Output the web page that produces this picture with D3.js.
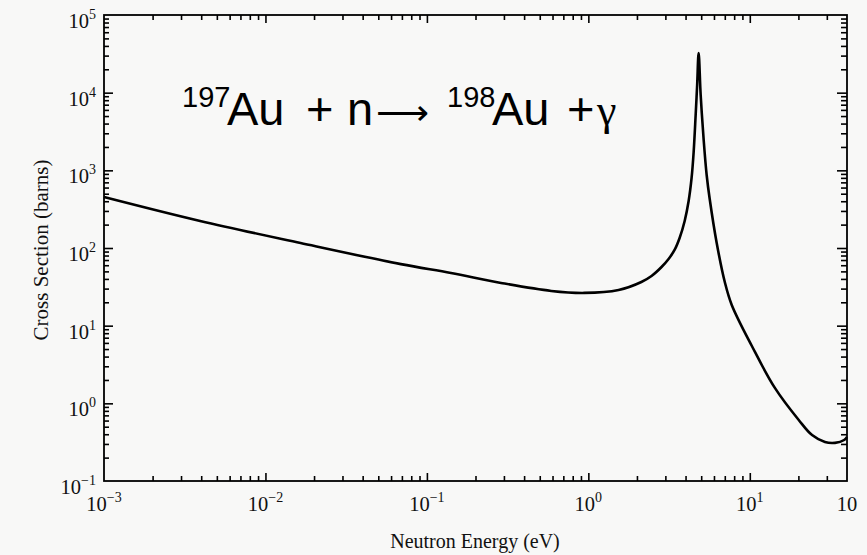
<!DOCTYPE html>
<meta charset="utf-8">
<script src="https://d3js.org/d3.v7.min.js"></script>
<title>197Au neutron capture cross section</title>

<style>

body {
  margin: 0;
  background: #f8f8f7;
}

svg {
  display: block;
}

.lbl, .title {
  font-family: "Liberation Serif", "Times New Roman", serif;
  fill: #111;
}

.eq {
  font-family: "Liberation Sans", Arial, sans-serif;
  fill: #000;
}

.axis path, .axis line {
  stroke: #000;
  stroke-width: 1.6px;
}

</style>
<body>

<svg id="chart" width="867" height="555"></svg>

<script>

// curve: neutron energy (eV) -> cross section (barns)
var energy = [0.001, 0.00394, 0.0165, 0.069, 0.141, 0.288, 0.589, 0.944, 1.54, 2.13,
  2.462, 2.84, 3.14, 3.42, 3.675, 3.95, 4.18, 4.36, 4.49, 4.62, 4.72, 4.82,
  4.963, 5.18, 5.405, 5.645, 6.237, 7.0, 7.73, 10.3, 14.3, 20.1, 24.3, 29.2, 33.7, 38.4, 40];
var sigma = [454, 223, 116, 62, 47.6, 35.5, 28.0, 26.4, 28.8, 36.5,
  43.6, 56.9, 72.2, 94.3, 134.6, 223, 403, 797, 1722, 5158, 12550, 32400,
  9333, 2458, 871, 427, 116, 36.5, 18.5, 5.47, 1.58, 0.61, 0.39, 0.318, 0.31, 0.337, 0.369];

var xLabelValues = [1e-3, 1e-2, 1e-1, 1, 10, 40];
var xLabelExp = ["\u22123", "\u22122", "\u22121", "0", "1", ""];
var yLabelValues = [1e-1, 1, 10, 100, 1e3, 1e4, 1e5];
var yLabelExp = ["\u22121", "0", "1", "2", "3", "4", "5"];

var pLeft = 104, pRight = 847, pTop = 15, pBottom = 481;

var x = d3.scaleLog()
  .domain([1e-3, 40])
  .range([pLeft, pRight]);

var y = d3.scaleLog()
  .domain([0.1, 1e5])
  .range([pBottom, pTop]);

var svg = d3.select("#chart");

function isMajor(d) {
  return Math.abs(Math.log10(d) - Math.round(Math.log10(d))) < 1e-9;
}

var xt = x.ticks().filter(function(d) { return d > 1e-3 && d < 40; });
var yt = y.ticks().filter(function(d) { return d > 0.1 && d < 1e5; });

// frame
svg.append("rect")
  .attr("x", pLeft)
  .attr("y", pTop)
  .attr("width", pRight - pLeft)
  .attr("height", pBottom - pTop)
  .attr("fill", "none")
  .attr("stroke", "#000")
  .attr("stroke-width", 1.8);

// inward ticks on all four sides
svg.append("g").attr("class", "axis")
  .attr("transform", "translate(0," + pBottom + ")")
  .call(d3.axisBottom(x).tickValues(xt).tickFormat("").tickSizeOuter(0).tickSizeInner(-5))
  .selectAll(".tick line").attr("y2", function(d) { return isMajor(d) ? -8 : -5; });

svg.append("g").attr("class", "axis")
  .attr("transform", "translate(0," + pTop + ")")
  .call(d3.axisTop(x).tickValues(xt).tickFormat("").tickSizeOuter(0).tickSizeInner(-5))
  .selectAll(".tick line").attr("y2", function(d) { return isMajor(d) ? 8 : 5; });

svg.append("g").attr("class", "axis")
  .attr("transform", "translate(" + pLeft + ",0)")
  .call(d3.axisLeft(y).tickValues(yt).tickFormat("").tickSizeOuter(0).tickSizeInner(-5))
  .selectAll(".tick line").attr("x2", function(d) { return isMajor(d) ? 9 : 5; });

svg.append("g").attr("class", "axis")
  .attr("transform", "translate(" + pRight + ",0)")
  .call(d3.axisRight(y).tickValues(yt).tickFormat("").tickSizeOuter(0).tickSizeInner(-6))
  .selectAll(".tick line").attr("x2", function(d) { return isMajor(d) ? -10 : -6; });

svg.selectAll(".axis .domain").remove();

// tick labels
var xl = svg.selectAll(".xlbl")
  .data(xLabelValues)
  .enter().append("text")
  .attr("class", "lbl")
  .attr("x", function(d) { return x(d); })
  .attr("y", pBottom + 30)
  .attr("text-anchor", "middle")
  .style("font-size", "20.5px");
xl.append("tspan").text("10");
xl.append("tspan")
  .attr("dy", -9)
  .style("font-size", "14px")
  .text(function(d, i) { return xLabelExp[i]; });

var yl = svg.selectAll(".ylbl")
  .data(yLabelValues)
  .enter().append("text")
  .attr("class", "lbl")
  .attr("x", pLeft - 8)
  .attr("y", function(d) { return y(d) + 13; })
  .attr("text-anchor", "end")
  .style("font-size", "20.5px");
yl.append("tspan").text("10");
yl.append("tspan")
  .attr("dy", -9)
  .style("font-size", "14px")
  .text(function(d, i) { return yLabelExp[i]; });

// axis titles
svg.append("text")
  .attr("class", "title")
  .attr("x", 475)
  .attr("y", 548)
  .attr("text-anchor", "middle")
  .style("font-size", "20px")
  .text("Neutron Energy (eV)");

svg.append("text")
  .attr("class", "title")
  .attr("transform", "translate(48,250) rotate(-90)")
  .attr("text-anchor", "middle")
  .style("font-size", "21px")
  .text("Cross Section (barns)");

// the curve
var line = d3.line()
  .x(function(d) { return x(d[0]); })
  .y(function(d) { return y(d[1]); })
  .curve(d3.curveCatmullRom.alpha(0.5));

svg.append("path")
  .datum(d3.zip(energy, sigma))
  .attr("d", line)
  .attr("fill", "none")
  .attr("stroke", "#000")
  .attr("stroke-width", 2.6)
  .attr("stroke-linejoin", "round");

// reaction label
var eq = svg.append("text")
  .attr("class", "eq")
  .attr("y", 125)
  .style("font-size", "47px");
eq.append("tspan").attr("x", 182).attr("y", 107).style("font-size", "29px").text("197");
eq.append("tspan").attr("x", 227).attr("y", 125).text("Au");
eq.append("tspan").attr("x", 306).text("+");
eq.append("tspan").attr("x", 347).text("n");
eq.append("tspan").attr("x", 376).attr("y", 125)
  .style("font-family", "DejaVu Sans").style("font-weight", "200")
  .style("font-size", "37px").text("\u27f6");
eq.append("tspan").attr("x", 447).attr("y", 107).style("font-size", "29px").text("198");
eq.append("tspan").attr("x", 492).attr("y", 125).text("Au");
eq.append("tspan").attr("x", 567).text("+");
eq.append("tspan").attr("x", 597)
  .style("font-family", "Liberation Serif").style("font-size", "44px").text("\u03b3");

</script>
</body>
